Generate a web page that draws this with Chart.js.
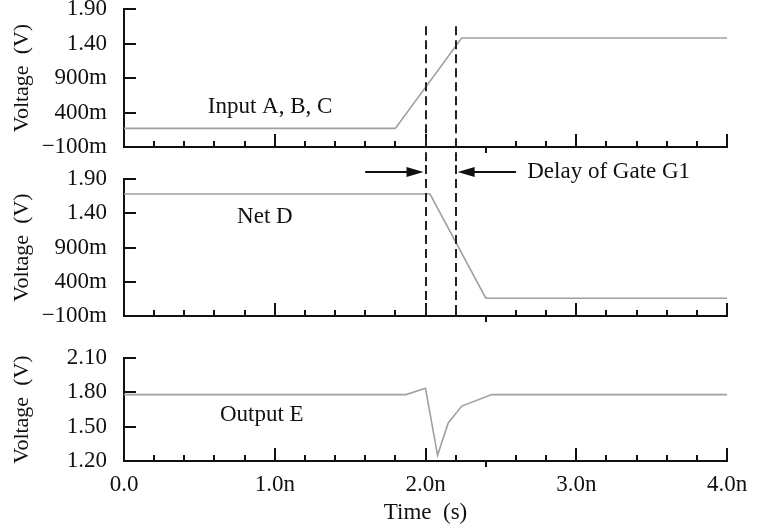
<!DOCTYPE html>
<html>
<head>
<meta charset="utf-8">
<script src="https://cdn.jsdelivr.net/npm/chart.js@4.4.4/dist/chart.umd.min.js"></script>
<style>
  body { margin: 0; background: #fff; width: 759px; height: 527px; position: relative; overflow: hidden; }
  canvas { position: absolute; left: 0; }
</style>
</head>
<body>
<canvas id="topChart" style="top:0px" width="759" height="165"></canvas>
<canvas id="midChart" style="top:150px" width="759" height="185"></canvas>
<canvas id="botChart" style="top:335px" width="759" height="192"></canvas>
<script>
// time in ns, voltages in V
const timeTicks = [0, 1, 2, 3, 4];
const minorStep = 0.2;

const inputT = [0, 1.8, 2.24, 4.0];
const inputV = [0.17, 0.17, 1.48, 1.48];

const netT = [0, 2.03, 2.4, 4.0];
const netV = [1.68, 1.68, 0.16, 0.16];

const outT = [0, 1.87, 2.0, 2.08, 2.15, 2.24, 2.44, 4.0];
const outV = [1.78, 1.78, 1.835, 1.25, 1.53, 1.68, 1.78, 1.78];

const topTicks = [-0.1, 0.4, 0.9, 1.4, 1.9];
const midTicks = [-0.1, 0.4, 0.9, 1.4, 1.9];
const botTicks = [1.2, 1.5, 1.8, 2.1];

const delayMarks = [2.0, 2.2];

const SERIF = "'Liberation Serif', 'Times New Roman', serif";
const INK = '#111';

function fmtVolt(v) {
  if (Math.abs(v) < 1) return (v < 0 ? '\u2212' : '') + Math.round(Math.abs(v) * 1000) + 'm';
  return v.toFixed(2);
}
function fmtTime(v) {
  return v === 0 ? '0.0' : v.toFixed(1) + 'n';
}

// inward ticks, delay markers, arrows and notes
const scopeDecor = {
  id: 'scopeDecor',
  afterDraw(chart, args, opts) {
    const { ctx, chartArea: a, scales: { x, y } } = chart;
    ctx.save();
    ctx.strokeStyle = INK;
    ctx.lineWidth = 2;
    ctx.beginPath();
    opts.yTicks.slice(1).forEach(v => {
      const py = Math.round(y.getPixelForValue(v));
      ctx.moveTo(a.left, py);
      ctx.lineTo(a.left + 12, py);
    });
    const n = Math.round(4 / minorStep);
    for (let i = 1; i <= n; i++) {
      const px = Math.round(x.getPixelForValue(i * minorStep));
      ctx.moveTo(px, a.bottom);
      if (i === 12) ctx.lineTo(px, a.bottom + 6);
      else ctx.lineTo(px, a.bottom - (i % 5 === 0 ? 13 : 6));
    }
    ctx.stroke();

    if (opts.dash) {
      ctx.setLineDash([9, 5]);
      ctx.strokeStyle = '#222';
      ctx.lineWidth = 2;
      const y0 = y.getPixelForValue(opts.dash.from);
      const y1 = opts.dash.to == null ? chart.height : y.getPixelForValue(opts.dash.to);
      ctx.beginPath();
      delayMarks.forEach(t => {
        const px = Math.round(x.getPixelForValue(t));
        ctx.moveTo(px, y0);
        ctx.lineTo(px, y1);
      });
      ctx.stroke();
      ctx.setLineDash([]);
    }

    (opts.arrows || []).forEach(ar => {
      const xs = x.getPixelForValue(ar.from);
      const xe = x.getPixelForValue(ar.to) + (ar.to > ar.from ? -2 : 2);
      const py = Math.round(y.getPixelForValue(ar.y));
      const dir = Math.sign(xe - xs);
      ctx.strokeStyle = INK;
      ctx.fillStyle = INK;
      ctx.lineWidth = 2;
      ctx.beginPath();
      ctx.moveTo(xs, py);
      ctx.lineTo(xe - dir * 10, py);
      ctx.stroke();
      ctx.beginPath();
      ctx.moveTo(xe, py);
      ctx.lineTo(xe - dir * 17, py - 5);
      ctx.lineTo(xe - dir * 17, py + 5);
      ctx.closePath();
      ctx.fill();
    });

    ctx.fillStyle = INK;
    ctx.font = '23px ' + SERIF;
    ctx.textAlign = 'left';
    ctx.textBaseline = 'middle';
    (opts.notes || []).forEach(nt => {
      ctx.fillText(nt.text, x.getPixelForValue(nt.x), y.getPixelForValue(nt.y));
    });
    ctx.restore();
  }
};

function makePanel(id, cfg) {
  const ctx = document.getElementById(id).getContext('2d');
  return new Chart(ctx, {
    type: 'scatter',
    data: {
      datasets: [{
        data: cfg.t.map((t, i) => ({ x: t, y: cfg.v[i] })),
        showLine: true,
        borderColor: '#a0a0a0',
        borderWidth: 1.6,
        pointRadius: 0,
        tension: 0
      }]
    },
    plugins: [scopeDecor],
    options: {
      responsive: false,
      animation: false,
      events: [],
      layout: { padding: { top: cfg.padTop, left: 0, right: 32, bottom: 0 } },
      plugins: {
        legend: { display: false },
        tooltip: { enabled: false },
        scopeDecor: { yTicks: cfg.yTicks, dash: cfg.dash, arrows: cfg.arrows, notes: cfg.notes }
      },
      scales: {
        x: {
          type: 'linear',
          min: 0,
          max: 4,
          grid: { display: false, drawTicks: false },
          border: { display: true, color: INK, width: 2 },
          afterBuildTicks: s => { s.ticks = timeTicks.map(v => ({ value: v })); },
          afterFit: s => { s.height = cfg.xHeight; s.paddingLeft = 0; s.paddingRight = 0; },
          ticks: {
            display: cfg.showTime,
            autoSkip: false,
            maxRotation: 0,
            padding: 10,
            color: INK,
            font: { family: SERIF, size: 23 },
            callback: v => fmtTime(v)
          },
          title: {
            display: cfg.showTime,
            text: 'Time  (s)',
            color: INK,
            font: { family: SERIF, size: 23 },
            padding: { top: 0, bottom: 0 }
          }
        },
        y: {
          min: cfg.yTicks[0],
          max: cfg.yTicks[cfg.yTicks.length - 1],
          grid: { display: false, drawTicks: false },
          border: { display: true, color: INK, width: 2 },
          afterBuildTicks: s => { s.ticks = cfg.yTicks.map(v => ({ value: v })); },
          afterFit: s => { s.width = 124; s.paddingTop = 0; s.paddingBottom = 0; },
          ticks: {
            autoSkip: false,
            padding: 17,
            color: INK,
            font: { family: SERIF, size: 23 },
            callback: v => fmtVolt(v)
          },
          title: {
            display: true,
            text: 'Voltage  (V)',
            color: INK,
            font: { family: SERIF, size: 22 },
            padding: { top: 9, bottom: 0 }
          }
        }
      }
    }
  });
}

makePanel('topChart', {
  t: inputT, v: inputV, yTicks: topTicks,
  padTop: 9, xHeight: 18, showTime: false,
  dash: { from: 1.65, to: null },
  notes: [{ text: 'Input A, B, C', x: 0.556, y: 0.48 }]
});

makePanel('midChart', {
  t: netT, v: netV, yTicks: midTicks,
  padTop: 29, xHeight: 19, showTime: false,
  dash: { from: 2.105, to: -0.1 },
  arrows: [{ from: 1.6, to: 2.0, y: 2.0 }, { from: 2.6, to: 2.2, y: 2.0 }],
  notes: [{ text: 'Net D', x: 0.75, y: 1.344 }, { text: 'Delay of Gate G1', x: 2.675, y: 2.0 }]
});

makePanel('botChart', {
  t: outT, v: outV, yTicks: botTicks,
  padTop: 23, xHeight: 66, showTime: true,
  notes: [{ text: 'Output E', x: 0.636, y: 1.60 }]
});
</script>
</body>
</html>
